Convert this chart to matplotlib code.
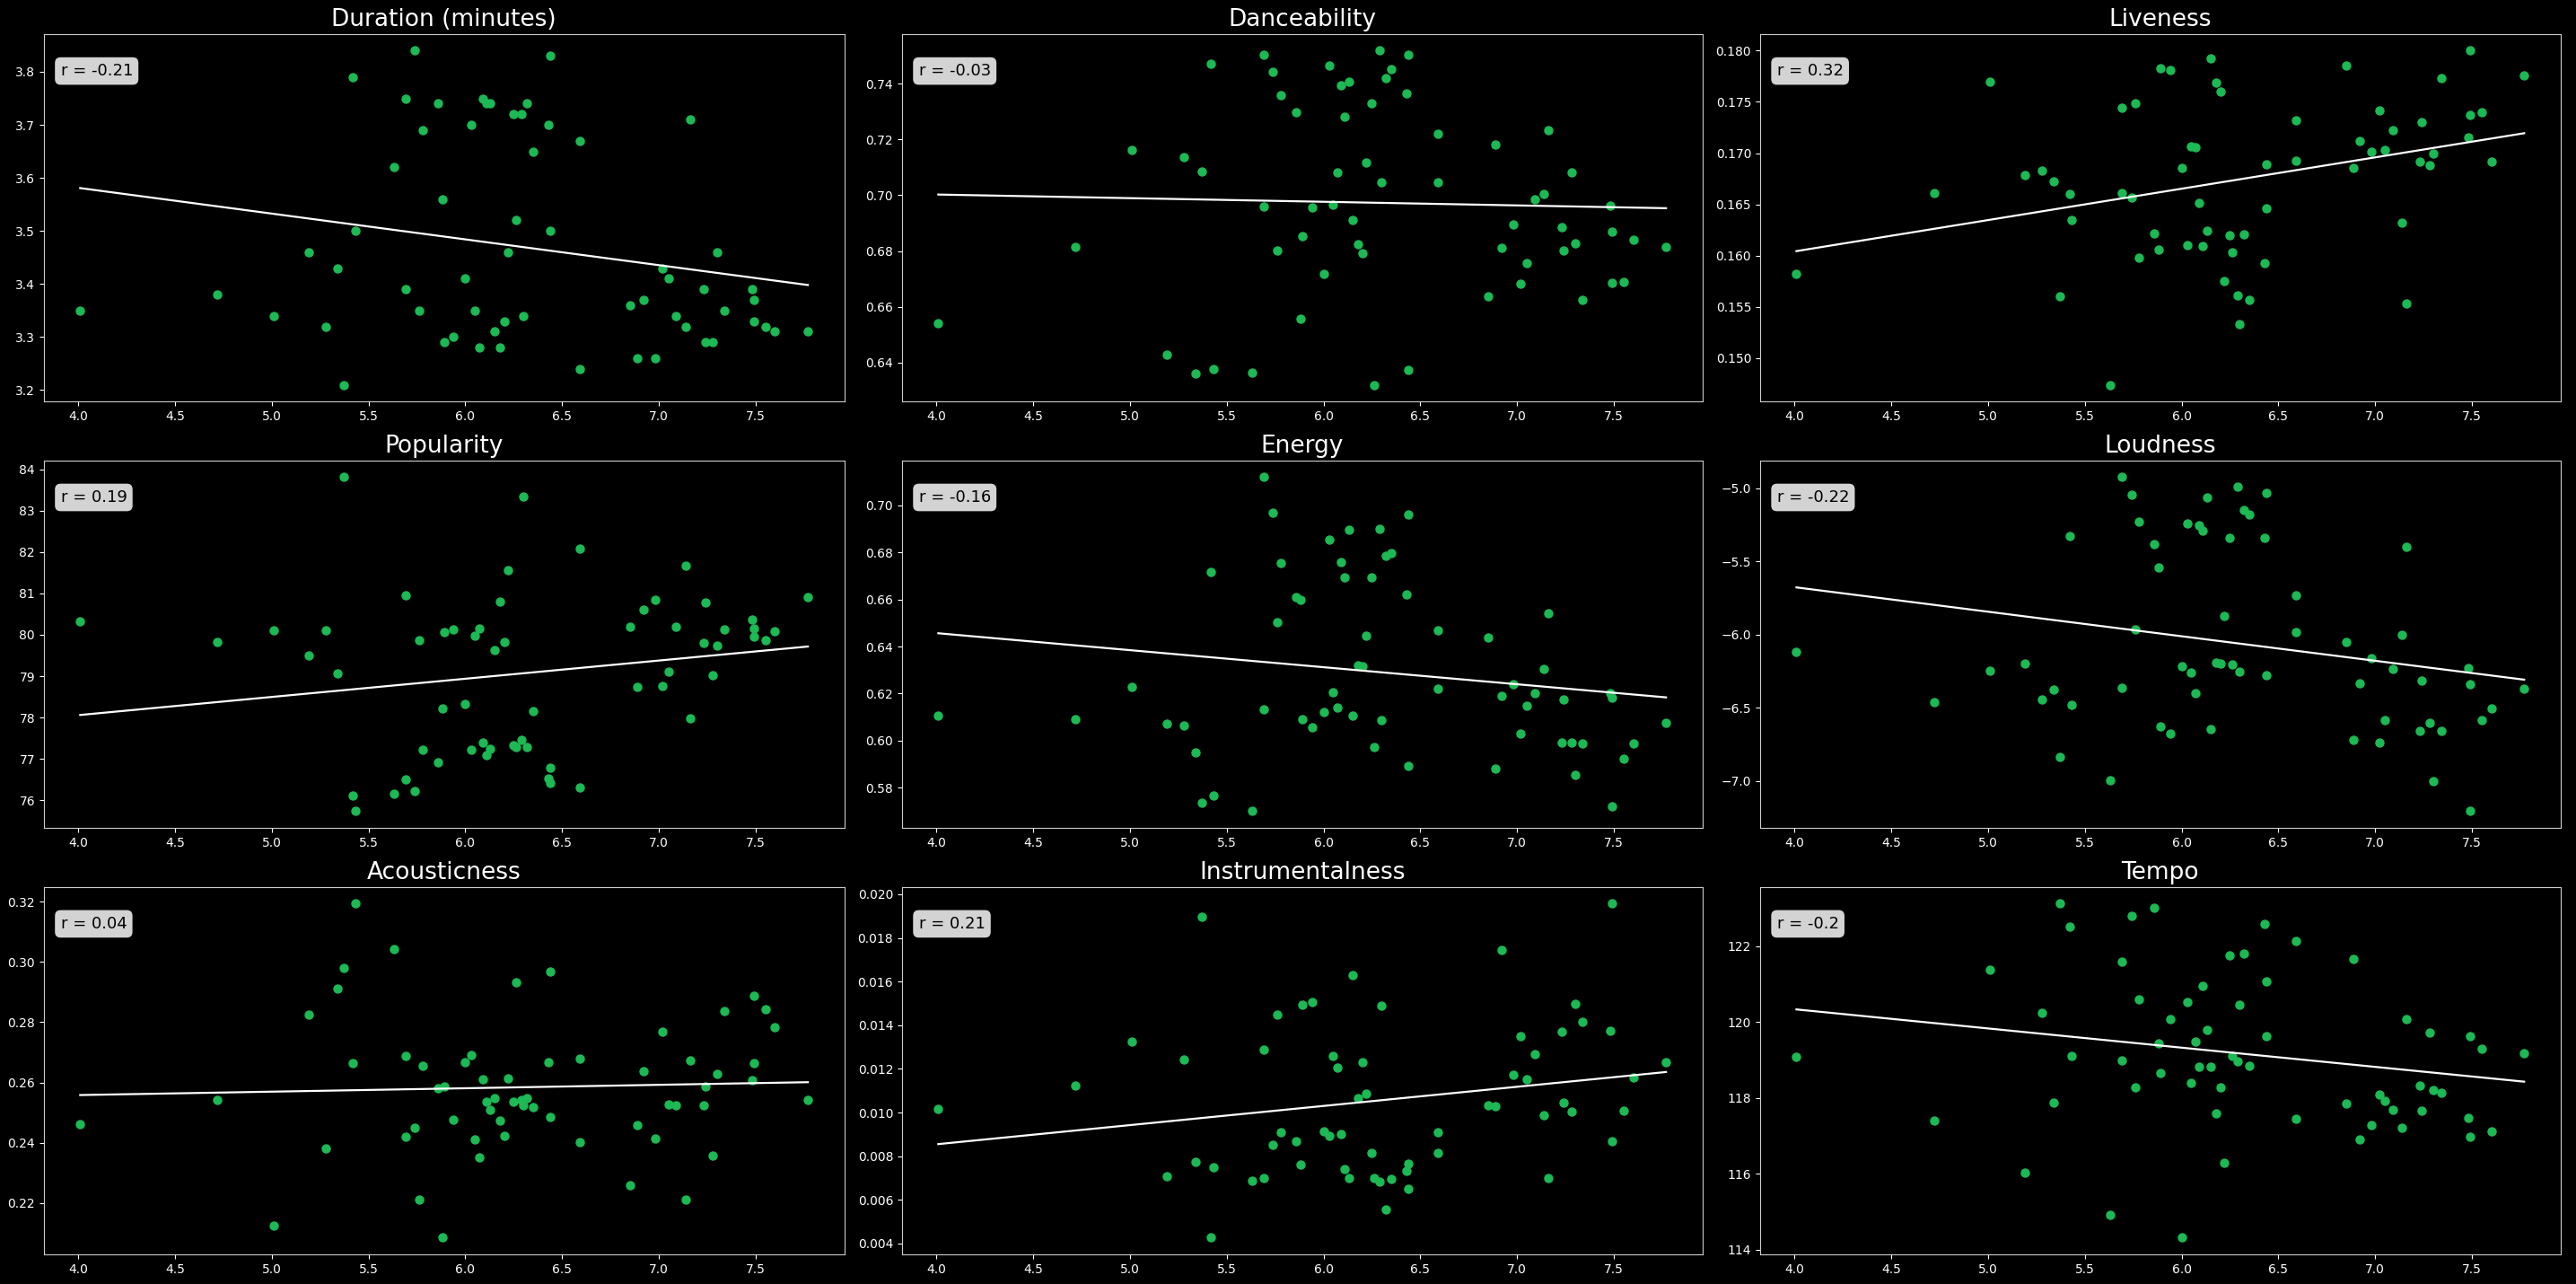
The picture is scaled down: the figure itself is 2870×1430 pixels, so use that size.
import numpy as np
import matplotlib
matplotlib.use("Agg")
import matplotlib.pyplot as plt

# danceability score (x axis, shared by all panels)
x_vals = [4.01, 4.72, 5.01, 5.19, 5.28, 5.34, 5.37, 5.42, 5.43, 5.63,
          5.69, 5.69, 5.74, 5.76, 5.78, 5.86, 5.88, 5.89, 5.94, 6.00,
          6.03, 6.05, 6.07, 6.09, 6.11, 6.13, 6.15, 6.18, 6.20, 6.22,
          6.25, 6.26, 6.29, 6.30, 6.32, 6.35, 6.43, 6.44, 6.44, 6.59,
          6.59, 6.85, 6.89, 6.92, 6.98, 7.02, 7.05, 7.09, 7.14, 7.16,
          7.23, 7.24, 7.28, 7.30, 7.34, 7.48, 7.49, 7.49, 7.55, 7.60, 7.77]

duration = [3.35, 3.38, 3.34, 3.46, 3.32, 3.43, 3.21, 3.79, 3.50, 3.62,
            3.39, 3.75, 3.84, 3.35, 3.69, 3.74, 3.56, 3.29, 3.30, 3.41,
            3.70, 3.35, 3.28, 3.75, 3.74, 3.74, 3.31, 3.28, 3.33, 3.46,
            3.72, 3.52, 3.72, 3.34, 3.74, 3.65, 3.70, 3.83, 3.50, 3.24,
            3.67, 3.36, 3.26, 3.37, 3.26, 3.43, 3.41, 3.34, 3.32, 3.71,
            3.39, 3.29, 3.29, 3.46, 3.35, 3.39, 3.33, 3.37, 3.32, 3.31, 3.31]

danceability = [0.654, 0.6814, 0.7162, 0.6427, 0.7138, 0.6362, 0.7086, 0.7473, 0.6377, 0.6365,
                0.696, 0.7503, 0.7444, 0.6801, 0.7358, 0.7297, 0.6556, 0.6853, 0.6957, 0.6719,
                0.7467, 0.6965, 0.7083, 0.7396, 0.7281, 0.7408, 0.691, 0.6823, 0.6792, 0.7117,
                0.7331, 0.632, 0.7519, 0.7048, 0.742, 0.7453, 0.7366, 0.7505, 0.6373, 0.7046,
                0.722, 0.6638, 0.7183, 0.681, 0.6894, 0.6681, 0.6756, 0.6987, 0.7006, 0.7235,
                0.6885, 0.6801, 0.7081, 0.6829, 0.6625, 0.6964, 0.6686, 0.6871, 0.669, 0.6842, 0.6816]

liveness = [0.1582, 0.1661, 0.1770, 0.1679, 0.1683, 0.1672, 0.1560, 0.1660, 0.1635, 0.1474,
            0.1744, 0.1661, 0.1657, 0.1749, 0.1598, 0.1622, 0.1606, 0.1783, 0.1781, 0.1686,
            0.1610, 0.1707, 0.1706, 0.1651, 0.1609, 0.1624, 0.1792, 0.1769, 0.1760, 0.1575,
            0.1620, 0.1603, 0.1561, 0.1533, 0.1621, 0.1557, 0.1593, 0.1689, 0.1646, 0.1693,
            0.1732, 0.1785, 0.1686, 0.1712, 0.1701, 0.1742, 0.1703, 0.1722, 0.1632, 0.1553,
            0.1692, 0.1730, 0.1688, 0.1700, 0.1773, 0.1715, 0.1737, 0.1800, 0.1740, 0.1692, 0.1776]

popularity = [80.32, 79.82, 80.11, 79.51, 80.11, 79.07, 83.81, 76.11, 75.74, 76.17,
              80.95, 76.50, 76.22, 79.86, 77.23, 76.92, 78.22, 80.06, 80.12, 78.34,
              77.22, 79.98, 80.16, 77.40, 77.09, 77.25, 79.64, 80.81, 79.83, 81.55,
              77.33, 77.29, 77.46, 83.34, 77.28, 78.16, 76.52, 76.79, 76.43, 82.09,
              76.31, 80.19, 78.74, 80.61, 80.85, 78.77, 79.12, 80.19, 81.67, 77.99,
              79.81, 80.77, 79.03, 79.74, 80.14, 80.36, 80.16, 79.96, 79.87, 80.08, 80.90]

energy = [0.6105, 0.6090, 0.6228, 0.6073, 0.6064, 0.5949, 0.5737, 0.6719, 0.5766, 0.5700,
          0.6134, 0.7121, 0.6970, 0.6504, 0.6754, 0.6609, 0.6599, 0.6090, 0.6055, 0.6121,
          0.6855, 0.6204, 0.6139, 0.6761, 0.6695, 0.6897, 0.6105, 0.6322, 0.6317, 0.6448,
          0.6694, 0.5974, 0.6902, 0.6087, 0.6785, 0.6799, 0.6620, 0.6961, 0.5891, 0.6468,
          0.6220, 0.6437, 0.5881, 0.6190, 0.6241, 0.6031, 0.6147, 0.6200, 0.6304, 0.6543,
          0.5993, 0.6177, 0.5993, 0.5856, 0.5988, 0.6201, 0.6184, 0.5721, 0.5923, 0.5987, 0.6077]

loudness = [-6.117, -6.461, -6.246, -6.199, -6.440, -6.377, -6.838, -5.323, -6.477, -6.992,
            -6.365, -4.922, -5.041, -5.964, -5.229, -5.378, -5.543, -6.626, -6.673, -6.218,
            -5.241, -6.260, -6.397, -5.253, -5.288, -5.063, -6.645, -6.191, -6.199, -5.870,
            -5.337, -6.203, -4.986, -6.250, -5.147, -5.180, -5.337, -5.029, -6.279, -5.731,
            -5.979, -6.048, -6.716, -6.332, -6.162, -6.739, -6.583, -6.234, -6.001, -5.400,
            -6.655, -6.316, -6.604, -6.998, -6.659, -6.228, -6.340, -7.206, -6.583, -6.502, -6.371]

acousticness = [0.2462, 0.2543, 0.2124, 0.2826, 0.2382, 0.2912, 0.2981, 0.2663, 0.3194, 0.3043,
                0.2688, 0.2420, 0.2449, 0.2211, 0.2654, 0.2580, 0.2085, 0.2586, 0.2476, 0.2667,
                0.2690, 0.2410, 0.2352, 0.2611, 0.2537, 0.2510, 0.2547, 0.2472, 0.2422, 0.2614,
                0.2537, 0.2933, 0.2542, 0.2525, 0.2547, 0.2519, 0.2667, 0.2969, 0.2484, 0.2402,
                0.2680, 0.2259, 0.2459, 0.2637, 0.2413, 0.2769, 0.2526, 0.2524, 0.2211, 0.2673,
                0.2524, 0.2587, 0.2358, 0.2629, 0.2838, 0.2608, 0.2665, 0.2887, 0.2843, 0.2784, 0.2543]

instrumentalness = [0.01015, 0.01125, 0.01324, 0.00707, 0.01242, 0.00775, 0.01897, 0.00427, 0.00748, 0.00687,
                    0.01287, 0.00702, 0.00853, 0.01450, 0.00911, 0.00867, 0.00761, 0.01492, 0.01506, 0.00915,
                    0.00894, 0.01260, 0.01206, 0.00900, 0.00742, 0.00698, 0.01628, 0.01067, 0.01232, 0.01088,
                    0.00816, 0.00700, 0.00682, 0.01489, 0.00556, 0.00696, 0.00733, 0.00767, 0.00649, 0.00909,
                    0.00815, 0.01035, 0.01030, 0.01745, 0.01175, 0.01351, 0.01153, 0.01268, 0.00987, 0.00698,
                    0.01370, 0.01046, 0.01006, 0.01500, 0.01414, 0.01376, 0.00869, 0.01958, 0.01010, 0.01162, 0.01232]

tempo = [119.08, 117.40, 121.39, 116.03, 120.24, 117.89, 123.13, 122.51, 119.12, 114.91,
         119.00, 121.60, 122.80, 118.27, 120.60, 123.02, 119.45, 118.67, 120.07, 114.32,
         120.54, 118.41, 119.50, 118.82, 120.96, 119.79, 118.82, 117.59, 118.29, 116.29,
         121.77, 119.12, 118.97, 120.46, 121.81, 118.86, 122.59, 121.07, 119.63, 122.14,
         117.45, 117.85, 121.66, 116.90, 117.29, 118.09, 117.93, 117.70, 117.22, 120.08,
         118.32, 117.67, 119.72, 118.22, 118.15, 117.48, 116.99, 119.62, 119.30, 117.13, 119.19]

titles = ["Duration (minutes)", "Danceability", "Liveness",
          "Popularity", "Energy", "Loudness",
          "Acousticness", "Instrumentalness", "Tempo"]
r_labels = ["-0.21", "-0.03", "0.32", "0.19", "-0.16", "-0.22", "0.04", "0.21", "-0.2"]
series = [duration, danceability, liveness, popularity, energy, loudness,
          acousticness, instrumentalness, tempo]

plt.style.use("dark_background")
fig, axes = plt.subplots(3, 3, figsize=(28.7, 14.3), dpi=100)
fig.patch.set_facecolor("black")

x = np.array(x_vals)
for ax, title, ys, r in zip(axes.flat, titles, series, r_labels):
    y = np.array(ys)
    ax.set_facecolor("black")
    ax.scatter(x, y, color="#1DB954", s=42, zorder=2)
    m, b = np.polyfit(x, y, 1)
    xs = np.array([x.min(), x.max()])
    ax.plot(xs, m * xs + b, color="white", lw=1.6, zorder=3)
    ax.set_title(title, fontsize=19, color="white")
    ax.text(0.021, 0.899, "r = " + r, transform=ax.transAxes, fontsize=13,
            color="black", va="center", ha="left",
            bbox=dict(boxstyle="round,pad=0.35", facecolor="lightgray", edgecolor="none"))
    for sp in ax.spines.values():
        sp.set_color("#cccccc")
    ax.tick_params(colors="white", labelsize=10)

fig.subplots_adjust(left=0.017, right=0.994, top=0.9736, bottom=0.0231,
                    wspace=0.072, hspace=0.16)
plt.savefig("out.png", dpi=100, facecolor="black")
